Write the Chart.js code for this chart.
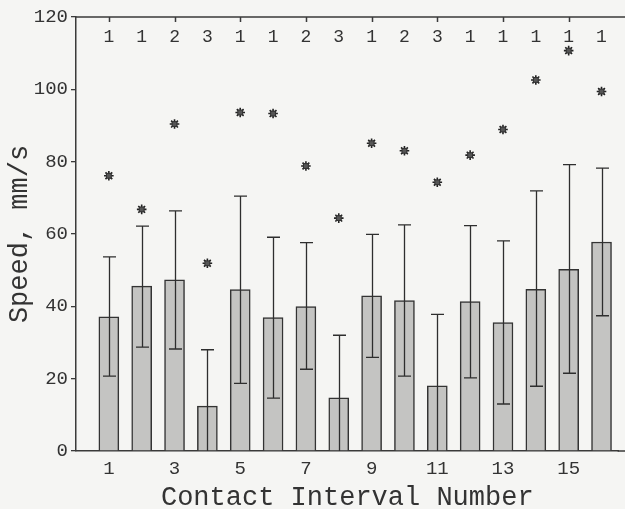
<!DOCTYPE html>
<html>
<head>
<meta charset="utf-8">
<script src="https://cdn.jsdelivr.net/npm/chart.js@4/dist/chart.umd.min.js"></script>
<style>
  html, body { margin: 0; padding: 0; background: #f5f5f3; overflow: hidden; }
  #wrap { width: 625px; height: 509px; position: relative; }
</style>
</head>
<body>
<div id="wrap"><canvas id="c"></canvas></div>
<script>
// Data
const intervals = [1, 2, 3, 4, 5, 6, 7, 8, 9, 10, 11, 12, 13, 14, 15, 16];
const meanSpeed = [37.1, 45.6, 47.3, 12.4, 44.6, 36.9, 39.9, 14.7, 42.9, 41.6, 18.0, 41.3, 35.5, 44.7, 50.2, 57.8];
const upperErr  = [53.7, 62.2, 66.4, 28.0, 70.5, 59.1, 57.6, 32.0, 59.9, 62.5, 37.8, 62.3, 58.1, 71.9, 79.2, 78.2];
const lowerErr  = [20.7, 28.7, 28.2, 0, 18.7, 14.6, 22.6, 0, 25.9, 20.7, 0, 20.2, 13.0, 17.9, 21.5, 37.4];
const maxSpeed  = [76.1, 66.8, 90.4, 51.9, 93.6, 93.3, 78.8, 64.4, 85.1, 83.0, 74.3, 81.8, 88.9, 102.6, 110.7, 99.4];
const counts    = [1, 1, 2, 3, 1, 1, 2, 3, 1, 2, 3, 1, 1, 1, 1, 1];
const xTicks = [1, 3, 5, 7, 9, 11, 13, 15];
const yTicks = [0, 20, 40, 60, 80, 100, 120];

const FONT = "'Liberation Mono', 'DejaVu Sans Mono', monospace";
const INK = '#333333';

const extras = {
  id: 'extras',
  afterDatasetsDraw(chart) {
    const ctx = chart.ctx, x = chart.scales.x, y = chart.scales.y, ca = chart.chartArea;
    ctx.save();
    // error bars
    ctx.strokeStyle = '#2e2e2e';
    ctx.lineWidth = 1.3;
    const cap = 6.5;
    intervals.forEach((c, i) => {
      const px = Math.round(x.getPixelForValue(c)) + 0.5;
      const yu = y.getPixelForValue(upperErr[i]);
      const yl = y.getPixelForValue(lowerErr[i]);
      ctx.beginPath();
      ctx.moveTo(px, yl); ctx.lineTo(px, yu);
      ctx.moveTo(px - cap, yu); ctx.lineTo(px + cap, yu);
      if (lowerErr[i] > 0) { ctx.moveTo(px - cap, yl); ctx.lineTo(px + cap, yl); }
      ctx.stroke();
    });
    // top frame line (and bottom axis continued to the edge) with inward ticks
    ctx.strokeStyle = '#3a3a3a';
    ctx.lineWidth = 1.5;
    ctx.beginPath();
    ctx.moveTo(ca.left, ca.top); ctx.lineTo(chart.width, ca.top);
    ctx.moveTo(ca.right - 1, ca.bottom); ctx.lineTo(chart.width, ca.bottom);
    xTicks.forEach(t => {
      const px = Math.round(x.getPixelForValue(t)) + 0.5;
      ctx.moveTo(px, ca.top); ctx.lineTo(px, ca.top + 5);
    });
    ctx.stroke();
    // counts along the top
    ctx.fillStyle = INK;
    ctx.font = "18px " + FONT;
    ctx.textAlign = 'center';
    ctx.textBaseline = 'middle';
    intervals.forEach((c, i) => {
      ctx.fillText(String(counts[i]), x.getPixelForValue(c), ca.top + 20);
    });
    ctx.restore();
  }
};

new Chart(document.getElementById('c'), {
  data: {
    datasets: [
      {
        type: 'scatter',
        data: intervals.map((c, i) => ({ x: c, y: maxSpeed[i] })),
        pointStyle: 'rect',
        pointRadius: 3.4,
        backgroundColor: '#555',
        borderColor: '#333',
        borderWidth: 1,
        order: 0
      },
      {
        type: 'scatter',
        data: intervals.map((c, i) => ({ x: c, y: maxSpeed[i] })),
        pointStyle: 'star',
        pointRadius: 4.8,
        borderColor: '#222',
        borderWidth: 1.6,
        order: 0
      },
      {
        type: 'bar',
        data: intervals.map((c, i) => ({ x: c, y: meanSpeed[i] })),
        backgroundColor: '#c4c4c2',
        borderColor: '#333333',
        borderWidth: 1.5,
        borderSkipped: 'bottom',
        barThickness: 20,
        order: 1
      }
    ]
  },
  options: {
    responsive: true,
    maintainAspectRatio: false,
    animation: false,
    events: [],
    layout: { padding: { top: 17, right: 0, left: 0, bottom: 0 } },
    plugins: { legend: { display: false }, tooltip: { enabled: false } },
    scales: {
      x: {
        type: 'linear',
        offset: false,
        min: 0,
        max: 16.52,
        afterBuildTicks(s) { s.ticks = xTicks.map(v => ({ value: v })); },
        afterFit(s) { s.height = 58; },
        grid: { display: false, drawTicks: false },
        border: { display: true, color: '#3a3a3a', width: 1.5 },
        ticks: { color: INK, font: { family: FONT, size: 19 }, padding: 7, maxRotation: 0, autoSkip: false },
        title: { display: true, text: 'Contact Interval Number', color: INK, font: { family: FONT, size: 27, lineHeight: 1 }, padding: { top: 0, bottom: -2 } }
      },
      y: {
        min: 0,
        max: 120,
        afterBuildTicks(s) { s.ticks = yTicks.map(v => ({ value: v })); },
        afterFit(s) { s.width = 76; },
        grid: { display: true, drawOnChartArea: false, tickLength: 5, color: '#3a3a3a', lineWidth: 1.3 },
        border: { display: true, color: '#3a3a3a', width: 1.5 },
        ticks: { color: INK, font: { family: FONT, size: 19 }, padding: 3 },
        title: { display: true, text: 'Speed, mm/s', color: INK, font: { family: FONT, size: 27 }, padding: { top: 4, bottom: 0 } }
      }
    }
  },
  plugins: [extras]
});
</script>
</body>
</html>
